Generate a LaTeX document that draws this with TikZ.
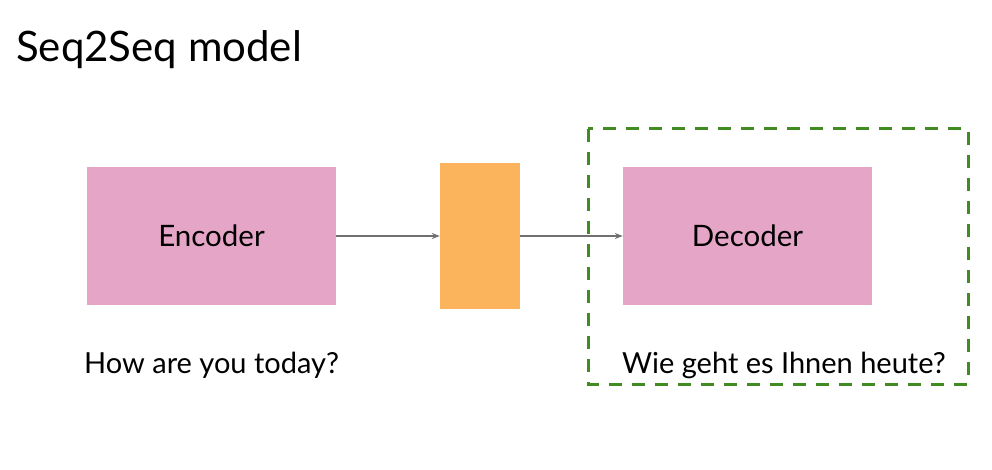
\documentclass[tikz,border=0pt]{standalone}
\usepackage{fontspec}
\setmainfont{Lato}
\usetikzlibrary{arrows.meta}
\definecolor{boxpink}{HTML}{E5A5C6}
\definecolor{ctxorange}{HTML}{FBB35C}
\definecolor{dashgreen}{HTML}{428A22}
\definecolor{arrowgray}{HTML}{707070}
\begin{document}
\begin{tikzpicture}[x=1pt,y=1pt,
  block/.style={fill=boxpink,draw=none,minimum width=249pt,minimum height=138pt,inner sep=0pt,text depth=0pt,font=\fontsize{29.5}{34}\selectfont},
  ctx/.style={fill=ctxorange,draw=none,minimum width=80pt,minimum height=146pt,inner sep=0pt},
  link/.style={draw=arrowgray,line width=1.2pt,-{Stealth[length=8pt,width=6pt]}},
  sent/.style={inner sep=0pt,font=\fontsize{29}{34}\selectfont},
  frame/.style={draw=dashgreen,line width=3pt,dash pattern=on 13pt off 10pt}
]
\useasboundingbox (0,0) rectangle (992,469);
\node[anchor=base west,inner sep=0pt,font=\fontsize{42}{48}\selectfont] (title) at (16,407) {Seq2Seq model};
\node[block] (enc) at (211.5,233) {Encoder};
\node[ctx] (ctxv) at (480,233) {};
\node[block] (dec) at (747.5,233) {Decoder};
\draw[link] (enc.east) -- (ctxv.west);
\draw[link] (ctxv.east) -- (dec.west);
\node[sent,anchor=base west] (src) at (84,96) {How are you today?};
\node[sent,anchor=base west] (tgt) at (622,96) {Wie geht es Ihnen heute?};
\coordinate (fa) at (588,340);
\coordinate (fb) at (968,85);
\draw[frame] (fa) rectangle (fb);
\end{tikzpicture}
\end{document}
